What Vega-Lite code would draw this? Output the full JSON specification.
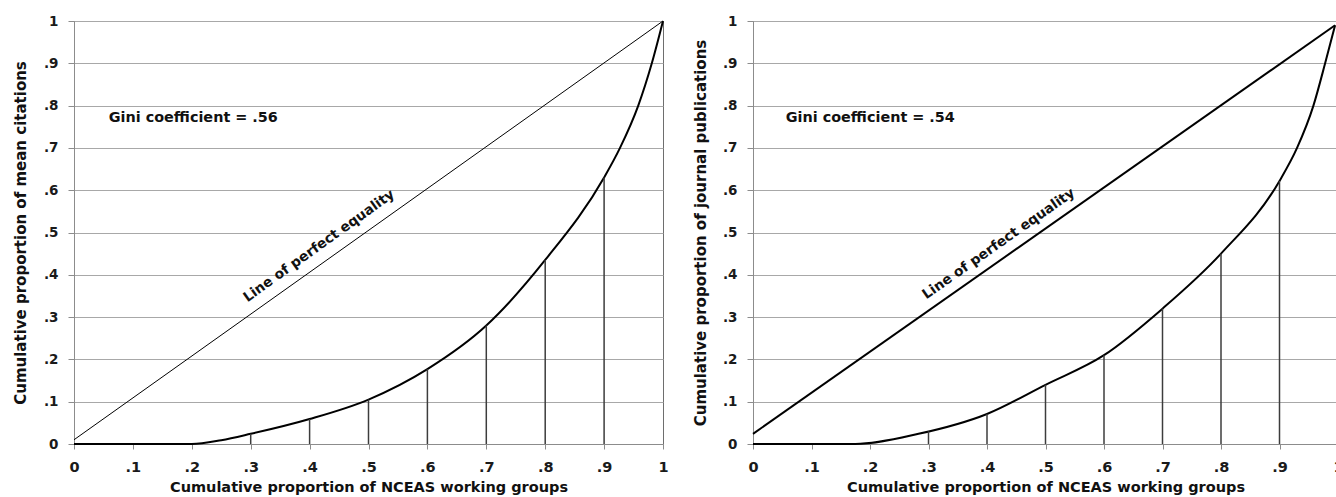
{
  "$schema": "https://vega.github.io/schema/vega-lite/v6.json",
  "padding": {"left": 12, "top": 13, "right": 0, "bottom": 0},
  "spacing": 23,
  "background": "white",
  "config": {
    "font": "DejaVu Sans",
    "view": {"stroke": "#6e6e6e", "strokeWidth": 1},
    "axis": {
      "domainColor": "#8c8c8c",
      "tickColor": "#8c8c8c",
      "gridColor": "#a8a8a8",
      "gridOpacity": 1,
      "labelColor": "#1a1a1a",
      "titleColor": "#111111",
      "labelFont": "DejaVu Sans",
      "titleFont": "DejaVu Sans",
      "labelFontWeight": "bold",
      "titleFontWeight": "bold"
    }
  },
  "datasets": {
    "curveL": [
      {"x": 0, "y": 0}, {"x": 0.1, "y": 0}, {"x": 0.2, "y": 0}, {"x": 0.25, "y": 0.009},
      {"x": 0.3, "y": 0.024}, {"x": 0.4, "y": 0.059}, {"x": 0.5, "y": 0.105},
      {"x": 0.6, "y": 0.177}, {"x": 0.7, "y": 0.28}, {"x": 0.8, "y": 0.435},
      {"x": 0.9, "y": 0.63}, {"x": 0.927, "y": 0.7}, {"x": 0.958, "y": 0.8},
      {"x": 0.981, "y": 0.9}, {"x": 1, "y": 1}
    ],
    "dropsL": [
      {"x": 0.3, "y": 0.024}, {"x": 0.4, "y": 0.059}, {"x": 0.5, "y": 0.105},
      {"x": 0.6, "y": 0.177}, {"x": 0.7, "y": 0.28}, {"x": 0.8, "y": 0.435},
      {"x": 0.9, "y": 0.63}
    ],
    "equalL": [{"x": 0, "y": 0.01}, {"x": 1, "y": 1}],
    "curveR": [
      {"x": 0, "y": 0}, {"x": 0.175, "y": 0}, {"x": 0.283, "y": 0.024},
      {"x": 0.4, "y": 0.071}, {"x": 0.5, "y": 0.14}, {"x": 0.6, "y": 0.21},
      {"x": 0.7, "y": 0.32}, {"x": 0.8, "y": 0.45}, {"x": 0.9, "y": 0.622},
      {"x": 0.93, "y": 0.7}, {"x": 0.958, "y": 0.8}, {"x": 0.978, "y": 0.9},
      {"x": 0.995, "y": 0.99}
    ],
    "dropsR": [
      {"x": 0.3, "y": 0.03}, {"x": 0.4, "y": 0.071}, {"x": 0.5, "y": 0.14},
      {"x": 0.6, "y": 0.21}, {"x": 0.7, "y": 0.32}, {"x": 0.8, "y": 0.45},
      {"x": 0.9, "y": 0.622}
    ],
    "equalR": [{"x": 0, "y": 0.024}, {"x": 0.995, "y": 0.99}],
    "labelsL": [
      {"x": 0.059, "y": 0.771, "text": "Gini coefficient = .56"}
    ],
    "lineL": [
      {"x": 0.416, "y": 0.468, "text": "Line of perfect equality"}
    ],
    "labelsR": [
      {"x": 0.056, "y": 0.771, "text": "Gini coefficient = .54"}
    ],
    "lineR": [
      {"x": 0.42, "y": 0.473, "text": "Line of perfect equality"}
    ]
  },
  "hconcat": [
    {
      "width": 589,
      "height": 423,
      "layer": [
        {
          "data": {"name": "curveL"},
          "mark": {"type": "line", "interpolate": "monotone", "color": "#000000", "strokeWidth": 2},
          "encoding": {
            "x": {
              "field": "x", "type": "quantitative",
              "scale": {"domain": [0, 1], "nice": false},
              "axis": {
                "title": "Cumulative proportion of NCEAS working groups",
                "values": [0, 0.1, 0.2, 0.3, 0.4, 0.5, 0.6, 0.7, 0.8, 0.9, 1],
                "labelExpr": "datum.value == 0 || datum.value == 1 ? format(datum.value, 'd') : replace(format(datum.value, '.1f'), '0.', '.')",
                "grid": false, "tickSize": 5, "labelPadding": 11, "labelFontSize": 14.5,
                "titleFontSize": 14.5, "titlePadding": 7, "labelFlush": false
              }
            },
            "y": {
              "field": "y", "type": "quantitative",
              "scale": {"domain": [0, 1], "nice": false},
              "axis": {
                "title": "Cumulative proportion of mean citations",
                "values": [0, 0.1, 0.2, 0.3, 0.4, 0.5, 0.6, 0.7, 0.8, 0.9, 1],
                "labelExpr": "datum.value == 0 || datum.value == 1 ? format(datum.value, 'd') : replace(format(datum.value, '.1f'), '0.', '.')",
                "grid": true, "tickSize": 6, "labelPadding": 10, "labelFontSize": 13.5,
                "titleFontSize": 15, "titlePadding": 15
              }
            }
          }
        },
        {
          "data": {"name": "equalL"},
          "mark": {"type": "line", "color": "#000000", "strokeWidth": 1},
          "encoding": {
            "x": {"field": "x", "type": "quantitative"},
            "y": {"field": "y", "type": "quantitative"}
          }
        },
        {
          "data": {"name": "dropsL"},
          "mark": {"type": "rule", "color": "#3c3c3c", "strokeWidth": 1.5},
          "encoding": {
            "x": {"field": "x", "type": "quantitative"},
            "y": {"field": "y", "type": "quantitative"},
            "y2": {"datum": 0}
          }
        },
        {
          "data": {"name": "labelsL"},
          "mark": {"type": "text", "align": "left", "baseline": "middle", "fontSize": 14.4, "fontWeight": "bold", "color": "#111111"},
          "encoding": {
            "x": {"field": "x", "type": "quantitative"},
            "y": {"field": "y", "type": "quantitative"},
            "text": {"field": "text"}
          }
        },
        {
          "data": {"name": "lineL"},
          "mark": {"type": "text", "align": "center", "baseline": "middle", "angle": -35.7, "fontSize": 13.8, "fontWeight": "bold", "color": "#111111"},
          "encoding": {
            "x": {"field": "x", "type": "quantitative"},
            "y": {"field": "y", "type": "quantitative"},
            "text": {"field": "text"}
          }
        }
      ]
    },
    {
      "width": 585,
      "height": 423,
      "layer": [
        {
          "data": {"name": "curveR"},
          "mark": {"type": "line", "interpolate": "monotone", "color": "#000000", "strokeWidth": 2},
          "encoding": {
            "x": {
              "field": "x", "type": "quantitative",
              "scale": {"domain": [0, 1], "nice": false},
              "axis": {
                "title": "Cumulative proportion of NCEAS working groups",
                "values": [0, 0.1, 0.2, 0.3, 0.4, 0.5, 0.6, 0.7, 0.8, 0.9, 1],
                "labelExpr": "datum.value == 0 || datum.value == 1 ? format(datum.value, 'd') : replace(format(datum.value, '.1f'), '0.', '.')",
                "grid": false, "tickSize": 5, "labelPadding": 11, "labelFontSize": 14.5,
                "titleFontSize": 14.5, "titlePadding": 7, "labelFlush": false
              }
            },
            "y": {
              "field": "y", "type": "quantitative",
              "scale": {"domain": [0, 1], "nice": false},
              "axis": {
                "title": "Cumulative proportion of journal publications",
                "values": [0, 0.1, 0.2, 0.3, 0.4, 0.5, 0.6, 0.7, 0.8, 0.9, 1],
                "labelExpr": "datum.value == 0 || datum.value == 1 ? format(datum.value, 'd') : replace(format(datum.value, '.1f'), '0.', '.')",
                "grid": true, "tickSize": 6, "labelPadding": 10, "labelFontSize": 13.5,
                "titleFontSize": 15, "titlePadding": 14
              }
            }
          }
        },
        {
          "data": {"name": "equalR"},
          "mark": {"type": "line", "color": "#000000", "strokeWidth": 2},
          "encoding": {
            "x": {"field": "x", "type": "quantitative"},
            "y": {"field": "y", "type": "quantitative"}
          }
        },
        {
          "data": {"name": "dropsR"},
          "mark": {"type": "rule", "color": "#3c3c3c", "strokeWidth": 1.5},
          "encoding": {
            "x": {"field": "x", "type": "quantitative"},
            "y": {"field": "y", "type": "quantitative"},
            "y2": {"datum": 0}
          }
        },
        {
          "data": {"name": "labelsR"},
          "mark": {"type": "text", "align": "left", "baseline": "middle", "fontSize": 14.4, "fontWeight": "bold", "color": "#111111"},
          "encoding": {
            "x": {"field": "x", "type": "quantitative"},
            "y": {"field": "y", "type": "quantitative"},
            "text": {"field": "text"}
          }
        },
        {
          "data": {"name": "lineR"},
          "mark": {"type": "text", "align": "center", "baseline": "middle", "angle": -35, "fontSize": 13.8, "fontWeight": "bold", "color": "#111111"},
          "encoding": {
            "x": {"field": "x", "type": "quantitative"},
            "y": {"field": "y", "type": "quantitative"},
            "text": {"field": "text"}
          }
        }
      ]
    }
  ]
}
